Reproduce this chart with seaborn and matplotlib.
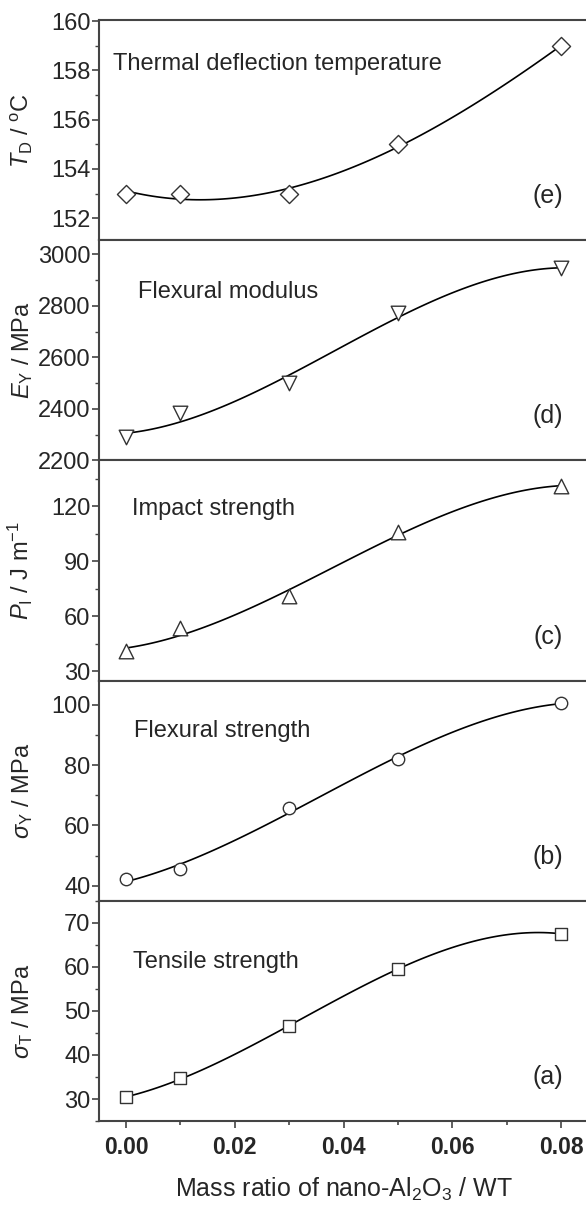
import numpy as np
import pandas as pd
import matplotlib
matplotlib.use("Agg")
import matplotlib.pyplot as plt
from matplotlib.ticker import MultipleLocator
import seaborn as sns

mass_ratio = [0.00, 0.01, 0.03, 0.05, 0.08]
t_d = [153.0, 153.0, 153.0, 155.0, 159.0]
e_y = [2290, 2383, 2500, 2770, 2945]
p_i = [41.0, 53.5, 71.0, 106.0, 131.0]
sigma_y = [42.2, 45.4, 65.8, 82.0, 100.5]
sigma_t = [30.4, 34.7, 46.5, 59.6, 67.5]

x_ticks = [0.00, 0.02, 0.04, 0.06, 0.08]

sns.set_style("ticks")
plt.rcParams["font.family"] = ["Liberation Sans", "DejaVu Sans"]
plt.rcParams["mathtext.fontset"] = "custom"
plt.rcParams["mathtext.rm"] = "Liberation Sans"
plt.rcParams["mathtext.it"] = "Liberation Sans:italic"
plt.rcParams["mathtext.bf"] = "Liberation Sans:bold"

df = pd.DataFrame({
    "x": mass_ratio,
    "td": t_d,
    "ey": e_y,
    "pi": p_i,
    "sy": sigma_y,
    "st": sigma_t,
})

# top to bottom: (e), (d), (c), (b), (a)
panels = [
    ("td", "D", 85, r"$T_{\mathrm{D}}$ / $^{\mathrm{o}}$C", "Thermal deflection temperature",
     (0.03, 0.80), "(e)", (151.1, 160.05), 2, 1),
    ("ey", "v", 110, r"$E_{\mathrm{Y}}$ / MPa", "Flexural modulus",
     (0.08, 0.765), "(d)", (2200, 3054), 200, 100),
    ("pi", "^", 110, r"$P_{\mathrm{I}}$ / J m$^{\mathrm{-1}}$", "Impact strength",
     (0.068, 0.78), "(c)", (25, 145), 30, 15),
    ("sy", "o", 80, r"$\sigma_{\mathrm{Y}}$ / MPa", "Flexural strength",
     (0.072, 0.77), "(b)", (35, 108), 20, 10),
    ("st", "s", 65, r"$\sigma_{\mathrm{T}}$ / MPa", "Tensile strength",
     (0.07, 0.72), "(a)", (25, 75), 10, 5),
]

fig, axes = plt.subplots(5, 1, sharex=True, figsize=(5.86, 12.08), dpi=100,
                         gridspec_kw={"hspace": 0})
fig.subplots_adjust(left=0.1686, right=1.004, top=0.9834, bottom=0.072)

spine_col = "#444444"
for ax, (col, mk, ms, ylab, title, tpos, tag, ylim, major, minor) in zip(axes, panels):
    sns.regplot(data=df, x="x", y=col, order=3, ci=None, scatter=False, ax=ax,
                line_kws={"color": "black", "lw": 1.2})
    sns.scatterplot(data=df, x="x", y=col, marker=mk, s=ms, facecolor="white",
                    edgecolor="#333333", linewidth=1.0, ax=ax, zorder=3)
    ax.set_ylim(*ylim)
    ax.yaxis.set_major_locator(MultipleLocator(major))
    ax.yaxis.set_minor_locator(MultipleLocator(minor))
    ax.set_ylabel(ylab, fontsize=17)
    ax.yaxis.set_label_coords(-0.13, 0.5)
    ax.set_xlabel("")
    ax.text(tpos[0], tpos[1], title, transform=ax.transAxes, fontsize=17,
            ha="left", va="center")
    ax.text(0.917, 0.2, tag, transform=ax.transAxes, fontsize=18,
            ha="center", va="center")
    for s in ax.spines.values():
        s.set_color(spine_col)
        s.set_linewidth(1.5)
    ax.tick_params(axis="y", which="major", direction="out", length=5, width=1.2,
                   color=spine_col, labelsize=17, pad=1)
    ax.tick_params(axis="y", which="minor", direction="out", length=3, width=1.0,
                   color=spine_col)
    ax.tick_params(axis="x", which="both", direction="out", bottom=True, top=False,
                   color=spine_col, width=1.2)
    ax.tick_params(axis="x", which="major", length=5)
    ax.tick_params(axis="x", which="minor", length=3)

ax = axes[-1]
ax.set_xlim(-0.005, 0.085)
ax.set_xticks(x_ticks)
ax.xaxis.set_minor_locator(MultipleLocator(0.01))
ax.set_xticklabels([f"{v:.2f}" for v in x_ticks], fontweight="bold", fontsize=16.5)
ax.tick_params(axis="x", which="major", pad=6)
ax.set_xlabel(r"Mass ratio of nano-Al$_{\mathrm{2}}$O$_{\mathrm{3}}$ / WT", fontsize=18,
              labelpad=12)

fig.savefig("out.png", dpi=100)
